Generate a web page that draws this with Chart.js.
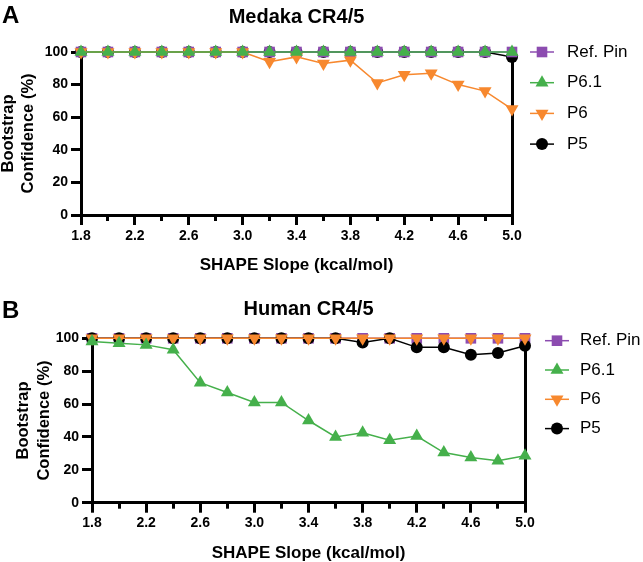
<!DOCTYPE html>
<html>
<head>
<meta charset="utf-8">
<script src="https://cdn.jsdelivr.net/npm/chart.js@4/dist/chart.umd.min.js"></script>
<style>
  html, body { margin: 0; padding: 0; background: #fff; }
  #wrap { position: relative; width: 643px; height: 562px; overflow: hidden; }
  canvas { position: absolute; left: 0; }
  .panel { position: absolute; font-family: 'Liberation Sans', Arial, Helvetica, sans-serif; font-weight: bold; font-size: 24px; line-height: 1; color: #000; }
</style>
</head>
<body>
<div id="wrap">
  <canvas id="cA" width="643" height="281" style="top:0"></canvas>
  <canvas id="cB" width="643" height="281" style="top:281px"></canvas>
  <div class="panel" style="left:2px; top:3px;">A</div>
  <div class="panel" style="left:2px; top:298px;">B</div>
</div>
<script>
// ---- data ----
const slopes = [1.8, 2.0, 2.2, 2.4, 2.6, 2.8, 3.0, 3.2, 3.4, 3.6, 3.8, 4.0, 4.2, 4.4, 4.6, 4.8, 5.0];
const majorTicks = [1.8, 2.2, 2.6, 3.0, 3.4, 3.8, 4.2, 4.6, 5.0];
const xTickLabels = ['1.8', '2.2', '2.6', '3.0', '3.4', '3.8', '4.2', '4.6', '5.0'];
const seriesNames = ['Ref. Pin', 'P6.1', 'P6', 'P5'];

const medakaRef = [100, 100, 100, 100, 100, 100, 100, 100, 100, 100, 100, 100, 100, 100, 100, 100, 100];
const medakaP61 = [100, 100, 100, 100, 100, 100, 100, 100, 100, 100, 100, 100, 100, 100, 100, 100, 100];
const medakaP6  = [100, 100, 100, 100, 100, 100, 100, 94, 97, 93, 95, 81, 86, 87, 80, 76, 65];
const medakaP5  = [100, 100, 100, 100, 100, 100, 100, 100, 100, 100, 100, 100, 100, 100, 100, 100, 97];

const humanRef = [100, 100, 100, 100, 100, 100, 100, 100, 100, 100, 100, 100, 100, 100, 100, 100, 100];
const humanP61 = [98, 97, 96, 93, 73, 67, 61, 61, 50, 40, 42.5, 38, 40.5, 30.5, 27.5, 25.5, 28.5];
const humanP6  = [100, 100, 100, 100, 100, 100, 100, 100, 100, 100, 100, 100, 100, 100, 100, 100, 100];
const humanP5  = [100, 100, 100, 100, 100, 100, 100, 100, 100, 100, 97.5, 100, 94.5, 94.5, 90, 91, 95.5];

const yTicks = [0, 20, 40, 60, 80, 100];

// ---- styles ----
const FONT = "'Liberation Sans', Arial, Helvetica, sans-serif";
const COLORS = { ref: '#8c4cb0', p61: '#45b04b', p6: '#f7882e', p5: '#000000' };

function pts(vals) { return slopes.map((x, i) => ({ x: x, y: vals[i] })); }

function makeSets(ref, p61, p6, p5, orders) {
  const base = { borderWidth: 1.5, pointBorderWidth: 0, clip: false, tension: 0 };
  return [
    Object.assign({}, base, { label: seriesNames[0], data: pts(ref), borderColor: COLORS.ref, backgroundColor: COLORS.ref, pointBackgroundColor: COLORS.ref, pointStyle: 'rect', pointRadius: 7.5, pointRotation: 0, order: orders[0] }),
    Object.assign({}, base, { label: seriesNames[1], data: pts(p61), borderColor: COLORS.p61, backgroundColor: COLORS.p61, pointBackgroundColor: COLORS.p61, pointStyle: 'triangle', pointRadius: 7.5, pointRotation: 0, order: orders[1] }),
    Object.assign({}, base, { label: seriesNames[2], data: pts(p6), borderColor: COLORS.p6, backgroundColor: COLORS.p6, pointBackgroundColor: COLORS.p6, pointStyle: 'triangle', pointRadius: 7.5, pointRotation: 180, order: orders[2] }),
    Object.assign({}, base, { label: seriesNames[3], data: pts(p5), borderColor: COLORS.p5, backgroundColor: COLORS.p5, pointBackgroundColor: COLORS.p5, pointStyle: 'circle', pointRadius: 6, pointRotation: 0, order: orders[3] })
  ];
}

function drawMarker(ctx, style, rotation, r, x, y) {
  if (Chart.helpers && Chart.helpers.drawPoint) {
    Chart.helpers.drawPoint(ctx, { pointStyle: style, rotation: rotation, radius: r, borderWidth: 0 }, x, y);
    return;
  }
  ctx.beginPath();
  if (style === 'circle') { ctx.arc(x, y, r, 0, Math.PI * 2); }
  else if (style === 'rect') { const s = r * Math.SQRT1_2; ctx.rect(x - s, y - s, 2 * s, 2 * s); }
  else {
    let rad = rotation * Math.PI / 180;
    ctx.moveTo(x + Math.sin(rad) * r, y - Math.cos(rad) * r);
    rad += 2 * Math.PI / 3; ctx.lineTo(x + Math.sin(rad) * r, y - Math.cos(rad) * r);
    rad += 2 * Math.PI / 3; ctx.lineTo(x + Math.sin(rad) * r, y - Math.cos(rad) * r);
    ctx.closePath();
  }
  ctx.fill();
}

const sideLegend = {
  id: 'sideLegend',
  afterDraw(chart, args, opts) {
    const ctx = chart.ctx;
    ctx.save();
    chart.data.datasets.forEach((ds, i) => {
      const y = opts.y0 + i * opts.dy;
      ctx.strokeStyle = ds.borderColor;
      ctx.lineWidth = 1.5;
      ctx.beginPath(); ctx.moveTo(opts.x0, y); ctx.lineTo(opts.x1, y); ctx.stroke();
      ctx.fillStyle = ds.pointBackgroundColor;
      drawMarker(ctx, ds.pointStyle, ds.pointRotation || 0, ds.pointRadius, (opts.x0 + opts.x1) / 2, y);
      ctx.fillStyle = '#000';
      ctx.font = '17px ' + FONT;
      ctx.textBaseline = 'middle';
      ctx.textAlign = 'left';
      ctx.fillText(ds.label, opts.tx, y);
    });
    ctx.restore();
  }
};

function makeChart(id, title, datasets, g) {
  return new Chart(document.getElementById(id), {
    type: 'line',
    data: { datasets: datasets },
    plugins: [sideLegend],
    options: {
      responsive: false,
      animation: false,
      events: [],
      layout: { autoPadding: false, padding: { left: 0, top: 0, right: g.padRight, bottom: g.padBottom } },
      plugins: {
        legend: { display: false },
        tooltip: { enabled: false },
        title: {
          display: true, text: title, fullSize: false, color: '#000',
          font: { family: FONT, size: 20, weight: 'bold', lineHeight: 1.2 },
          padding: { top: g.titleTop, bottom: g.titleBottom }
        },
        sideLegend: g.legend
      },
      scales: {
        x: {
          type: 'linear', position: 'bottom', min: 1.8, max: 5.0, weight: 0,
          afterBuildTicks: s => { s.ticks = majorTicks.map(v => ({ value: v })); },
          afterFit: s => { s.height = g.xHeight; },
          ticks: {
            autoSkip: false, maxRotation: 0, minRotation: 0, padding: g.xTickPad, color: '#000',
            font: { family: FONT, size: 14, weight: 'bold', lineHeight: 1.2 },
            callback: (v, i) => xTickLabels[i]
          },
          grid: { display: true, drawOnChartArea: false, drawTicks: true, tickLength: 10, tickWidth: 3, tickColor: '#000' },
          border: { display: true, width: 3, color: '#000' },
          title: {
            display: true, text: 'SHAPE Slope (kcal/mol)', color: '#000',
            font: { family: FONT, size: 17, weight: 'bold', lineHeight: 1.2 },
            padding: { top: 0, bottom: g.xTitlePad }
          }
        },
        xMinor: {
          type: 'linear', position: 'bottom', min: 1.8, max: 5.0, weight: -10,
          afterBuildTicks: s => { s.ticks = slopes.map(v => ({ value: v })); },
          afterFit: s => { s.height = 0; },
          ticks: { display: false, autoSkip: false },
          grid: { display: true, drawOnChartArea: false, drawTicks: true, tickLength: 6, tickWidth: 3, tickColor: '#000' },
          border: { display: false }
        },
        y: {
          type: 'linear', position: 'left', min: 0, max: 100,
          afterBuildTicks: s => { s.ticks = yTicks.map(v => ({ value: v })); },
          afterFit: s => { s.width = g.yWidth; },
          ticks: {
            padding: 3, color: '#000',
            font: { family: FONT, size: 14, weight: 'bold', lineHeight: 1.2 }
          },
          grid: { display: true, drawOnChartArea: false, drawTicks: true, tickLength: 10, tickWidth: 3, tickColor: '#000' },
          border: { display: true, width: 3, color: '#000' },
          title: {
            display: true, text: ['Bootstrap', 'Confidence (%)'], color: '#000',
            font: { family: FONT, size: 16.5, weight: 'bold', lineHeight: 1.25 },
            padding: { top: g.yTitlePad, bottom: 0 }
          }
        },
        yRight: {
          type: 'linear', position: 'right', min: 0, max: 100,
          afterFit: s => { s.width = 0; },
          ticks: { display: false },
          grid: { display: false, drawTicks: false },
          border: { display: true, width: 3, color: '#000' }
        }
      }
    }
  });
}

makeChart('cA', 'Medaka CR4/5',
  makeSets(medakaRef, medakaP61, medakaP6, medakaP5, [2, 0, 1, 3]),
  { padRight: 131, padBottom: 5.8, titleTop: 5.5, titleBottom: 22.5, xHeight: 60.2, xTickPad: 3, xTitlePad: 0,
    yWidth: 81, yTitlePad: -2,
    legend: { x0: 530, x1: 554, tx: 567, y0: 52, dy: 30.7 } });

makeChart('cB', 'Human CR4/5',
  makeSets(humanRef, humanP61, humanP6, humanP5, [3, 0, 1, 2]),
  { padRight: 118, padBottom: 0, titleTop: 16, titleBottom: 17.3, xHeight: 59.3, xTickPad: 2, xTitlePad: -1.5,
    yWidth: 92, yTitlePad: 13.5,
    legend: { x0: 545, x1: 569, tx: 580, y0: 59.7, dy: 29.3 } });
</script>
</body>
</html>
